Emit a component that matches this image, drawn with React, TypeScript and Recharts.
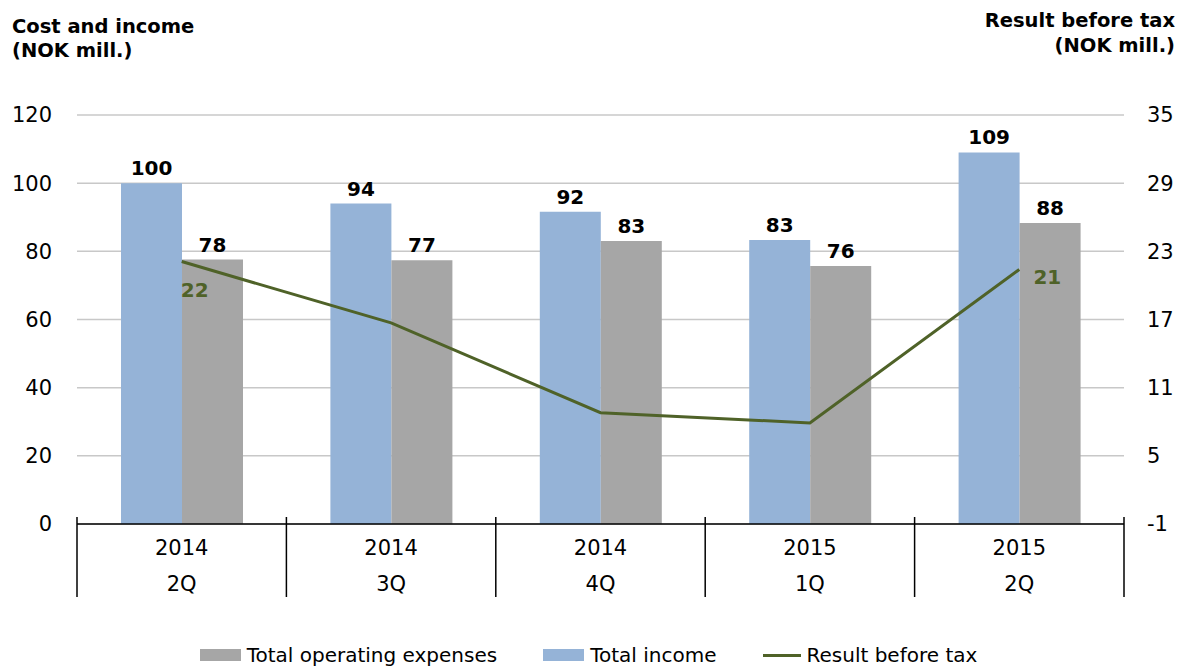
import { Bar, CartesianGrid, ComposedChart, LabelList, Legend, Line, XAxis, YAxis } from 'recharts'

const years = ['2014', '2014', '2014', '2015', '2015']
const quarters = ['2Q', '3Q', '4Q', '1Q', '2Q']
const totalIncome = [100, 94, 91.6, 83.3, 109]
const totalExpenses = [77.6, 77.4, 83, 75.7, 88.3]
const resultBeforeTax = [22.1, 16.7, 8.8, 7.9, 21.4]

const leftTicks = [0, 20, 40, 60, 80, 100, 120]
const rightTicks = [-1, 5, 11, 17, 23, 29, 35]

const BLUE = '#95B3D7'
const GRAY = '#A6A6A6'
const GREEN = '#4F6228'
const FONT = '"DejaVu Sans", Verdana, sans-serif'

const data = quarters.map((q, i) => ({
  quarter: `${years[i]} ${q}`,
  income: totalIncome[i],
  expenses: totalExpenses[i],
  result: resultBeforeTax[i],
}))

// two label rows plus the vertical separators at the band edges
function CategoryTick({ x, y, index, payload }: any) {
  const half = payload?.offset ?? 0
  const last = index === data.length - 1
  return (
    <g>
      <line x1={x - half} x2={x - half} y1={y - 7} y2={y + 73} stroke='#000' strokeWidth={1.5} />
      {last && <line x1={x + half} x2={x + half} y1={y - 7} y2={y + 73} stroke='#000' strokeWidth={1.5} />}
      <text x={x} y={y} dy={31} textAnchor='middle' fontSize={21} fill='#000' fontFamily={FONT}>
        {years[index]}
      </text>
      <text x={x} y={y} dy={67} textAnchor='middle' fontSize={21} fill='#000' fontFamily={FONT}>
        {quarters[index]}
      </text>
    </g>
  )
}

// only the first and last line points carry a label
function ResultLabel({ x, y, index, value }: any) {
  const last = data.length - 1
  if (index !== 0 && index !== last) return null
  const dx = index === 0 ? 13 : 28
  const dy = index === 0 ? 35 : 14
  return (
    <text x={x + dx} y={y + dy} textAnchor='middle' fontSize={20} fontWeight='bold' fill={GREEN} fontFamily={FONT}>
      {Math.round(value)}
    </text>
  )
}

function ChartLegend() {
  const items = [
    { label: 'Total operating expenses', color: GRAY, type: 'box' },
    { label: 'Total income', color: BLUE, type: 'box' },
    { label: 'Result before tax', color: GREEN, type: 'line' },
  ]
  return (
    <div style={{ display: 'flex', justifyContent: 'center', gap: 46, height: 24, fontFamily: FONT, fontSize: 20, color: '#000', paddingRight: 4 }}>
      {items.map((it) => (
        <div key={it.label} style={{ display: 'flex', alignItems: 'center', gap: 6, whiteSpace: 'nowrap' }}>
          {it.type === 'box' ? (
            <span style={{ display: 'inline-block', width: 41, height: 12, background: it.color }} />
          ) : (
            <span style={{ display: 'inline-block', width: 38, height: 3, background: it.color }} />
          )}
          <span>{it.label}</span>
        </div>
      ))}
    </div>
  )
}

export default function App() {
  return (
    <div style={{ position: 'absolute', left: 0, top: 0, width: 1181, height: 669, background: '#fff', overflow: 'hidden', fontFamily: FONT }}>
      <div style={{ position: 'absolute', left: 12, top: 15, fontSize: 19.5, fontWeight: 'bold', lineHeight: '24px', color: '#000' }}>
        Cost and income
        <br />
        (NOK mill.)
      </div>
      <div style={{ position: 'absolute', right: 6, top: 8, fontSize: 19.5, fontWeight: 'bold', lineHeight: '25px', textAlign: 'right', color: '#000' }}>
        Result before tax
        <br />
        (NOK mill.)
      </div>
      <ComposedChart
        width={1181}
        height={669}
        data={data}
        margin={{ top: 115, right: 0, left: 0, bottom: 41 }}
        barCategoryGap={44}
        barGap={0}
      >
        <CartesianGrid vertical={false} stroke='#C8C8C8' strokeWidth={1.5} yAxisId='left' />
        <XAxis
          dataKey='quarter'
          tick={<CategoryTick />}
          tickLine={false}
          axisLine={{ stroke: '#000', strokeWidth: 1.5 }}
          interval={0}
          height={80}
          tickSize={0}
          tickMargin={0}
        />
        <YAxis
          yAxisId='left'
          domain={[0, 120]}
          ticks={leftTicks}
          width={77}
          axisLine={false}
          tickLine={false}
          tickMargin={19}
          tick={{ fontSize: 21, fill: '#000', fontFamily: FONT }}
        />
        <YAxis
          yAxisId='right'
          orientation='right'
          domain={[-1, 35]}
          ticks={rightTicks}
          width={57}
          axisLine={false}
          tickLine={false}
          tickMargin={17}
          tick={{ fontSize: 21, fill: '#000', fontFamily: FONT }}
        />
        <Legend
          verticalAlign='bottom'
          content={<ChartLegend />}
          wrapperStyle={{ position: 'absolute', top: 643, left: 0, width: 1181, bottom: 'auto' }}
        />
        <Bar yAxisId='left' dataKey='income' name='Total income' fill={BLUE} isAnimationActive={false}>
          <LabelList
            dataKey='income'
            position='top'
            offset={8}
            formatter={(v: any) => Math.round(v)}
            style={{ fontSize: 20, fontWeight: 'bold', fill: '#000', fontFamily: FONT }}
          />
        </Bar>
        <Bar yAxisId='left' dataKey='expenses' name='Total operating expenses' fill={GRAY} isAnimationActive={false}>
          <LabelList
            dataKey='expenses'
            position='top'
            offset={8}
            formatter={(v: any) => Math.round(v)}
            style={{ fontSize: 20, fontWeight: 'bold', fill: '#000', fontFamily: FONT }}
          />
        </Bar>
        <Line
          yAxisId='right'
          dataKey='result'
          name='Result before tax'
          stroke={GREEN}
          strokeWidth={3}
          dot={false}
          activeDot={false}
          isAnimationActive={false}
        >
          <LabelList dataKey='result' content={<ResultLabel />} />
        </Line>
      </ComposedChart>
    </div>
  )
}
